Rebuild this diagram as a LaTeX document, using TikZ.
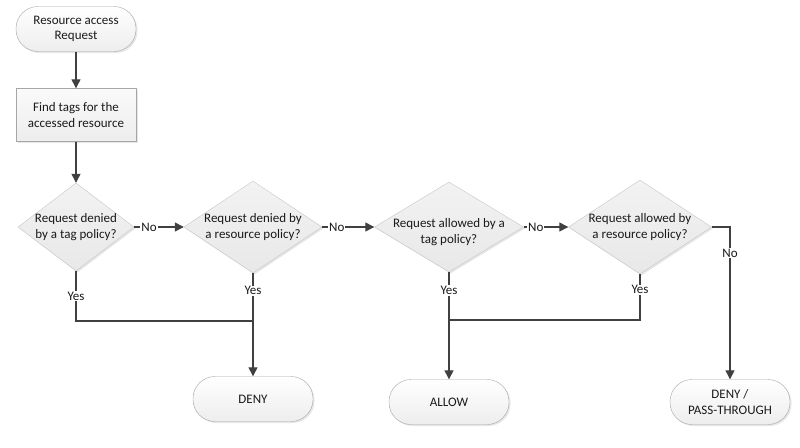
\documentclass[tikz,border=0pt]{standalone}
\usepackage{fontspec}
\setmainfont{Carlito}
\usetikzlibrary{shapes.geometric, arrows.meta, shadows}

\definecolor{linegray}{HTML}{404040}
\definecolor{edgegray}{HTML}{A6A6A6}
\definecolor{txtgray}{HTML}{1A1A1A}

\begin{document}
\begin{tikzpicture}[x=1pt, y=-1pt,
    base/.style={draw=edgegray, text=txtgray, font=\fontsize{13}{15.5}\selectfont, align=center,
        drop shadow={opacity=0.2, shadow xshift=1.5pt, shadow yshift=-1.5pt}},
    term/.style={base, rectangle, rounded corners=22pt, minimum width=120pt, minimum height=45pt,
        top color=white, bottom color=gray!14},
    proc/.style={base, rectangle, minimum width=120pt, minimum height=53pt,
        top color=gray!4, bottom color=gray!14},
    decide/.style={base, diamond, inner sep=0pt, draw=gray!45, top color=gray!10, bottom color=gray!18},
    every label/.style={text=txtgray, font=\fontsize{13}{15.5}\selectfont, align=center},
    flow/.style={draw=linegray, line width=1.3pt, -{Triangle[width=9pt, length=9pt]}},
    link/.style={draw=linegray, line width=1.3pt},
    lbl/.style={fill=white, text=txtgray, inner sep=1pt, font=\fontsize{13}{15.5}\selectfont}]

    \useasboundingbox (0, 0) rectangle (800, 447);

    \node (start) at (76, 29) [term] {Resource access\\Request};
    \node (find) at (76, 115) [proc] {Find tags for the\\accessed resource};

    \node (q1) at (76, 227) [decide, minimum width=116pt, minimum height=88pt,
        label={center:Request denied\\by a tag policy?}] {};
    \node (q2) at (253, 227) [decide, minimum width=138pt, minimum height=92pt,
        label={center:Request denied by\\a resource policy?}] {};
    \node (q3) at (449, 227) [decide, minimum width=149pt, minimum height=90pt,
        label={[yshift=-5pt]center:Request allowed by a\\tag policy?}] {};
    \node (q4) at (640, 227) [decide, minimum width=143pt, minimum height=94pt,
        label={center:Request allowed by\\a resource policy?}] {};

    \node (deny) at (253, 399) [term] {DENY};
    \node (allow) at (449, 402) [term] {ALLOW};
    \node (pass) at (730, 402) [term] {DENY /\\PASS-THROUGH};

    \coordinate (j1) at (253, 321);
    \coordinate (j2) at (449, 320);

    \draw[flow] (start) -- (find);
    \draw[flow] (find) -- (q1);

    \draw[flow] (q1) -- node[lbl, pos=0.3] {No} (q2);
    \draw[flow] (q2) -- node[lbl, pos=0.28] {No} (q3);
    \draw[flow] (q3) -- node[lbl, pos=0.27] {No} (q4);
    \draw[flow] (q4) -| node[lbl, pos=0.585] {No} (pass);

    \draw[link] (q1) |- node[lbl, pos=0.25] {Yes} (j1);
    \draw[flow] (q2) -- node[lbl, pos=0.17] {Yes} (deny);
    \draw[link] (q4) |- node[lbl, pos=0.17] {Yes} (j2);
    \draw[flow] (q3) -- node[lbl, pos=0.17] {Yes} (allow);
\end{tikzpicture}
\end{document}
